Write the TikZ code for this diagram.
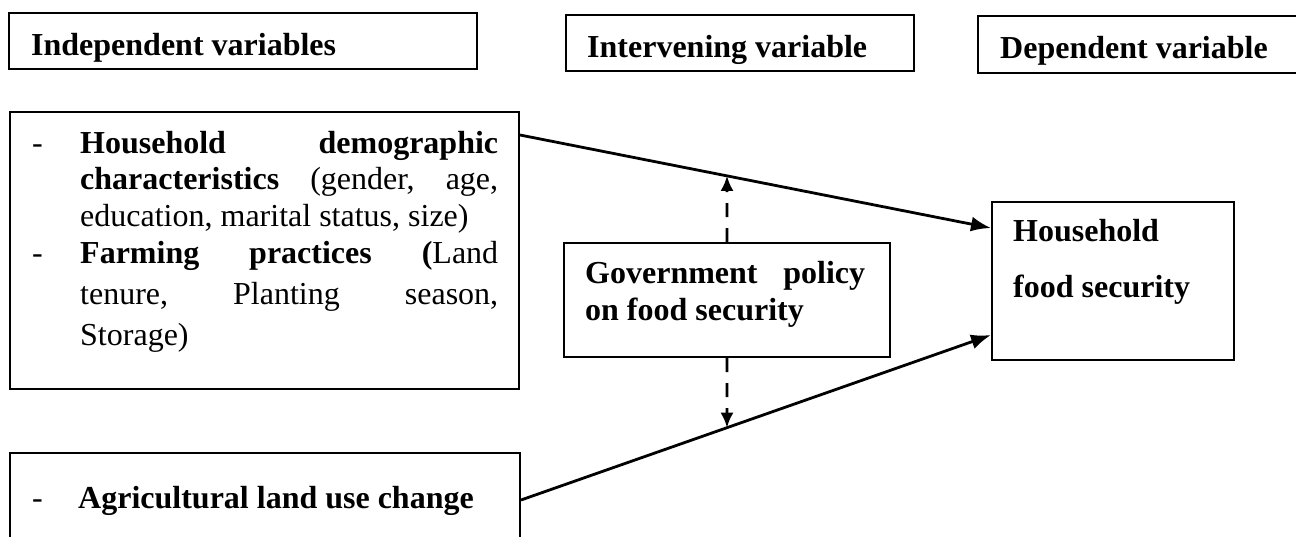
\documentclass[tikz,border=0pt]{standalone}
\usepackage{fontspec}
\setmainfont{Liberation Serif}
\usetikzlibrary{arrows.meta,calc,intersections}
\begin{document}
\begin{tikzpicture}[x=1pt,y=-1pt,
  box/.style={draw=black, line width=2pt, inner sep=0pt, anchor=north west},
  txt/.style={inner sep=0pt, anchor=base west, font=\fontsize{32}{38}\selectfont},
  conn/.style={line width=2.8pt, -{Latex[length=20pt,width=15pt]}},
  dconn/.style={line width=2.6pt, dash pattern=on 14pt off 11pt, -{Latex[length=15pt,width=13pt]}}
]
\useasboundingbox (0,0) rectangle (1296,536);
\fill[white] (0,0) rectangle (1296,536);

% headers
\node[box, minimum width=468pt, minimum height=56pt] (hind) at (8,12) {};
\node[box, minimum width=348pt, minimum height=56pt] (hint) at (565,14) {};
\node[box, minimum width=323pt, minimum height=57pt] (hdep) at (977,15) {};
\node[txt] (t1) at (31,55) {\textbf{Independent variables}};
\node[txt] (t2) at (587,57) {\textbf{Intervening variable}};
\node[txt] (t3) at (1000,58) {\textbf{Dependent variable}};

% boxes
\node[box, minimum width=509pt, minimum height=277pt] (iv1) at (9,111) {};
\node[box, minimum width=510pt, minimum height=130pt] (iv2) at (9,452) {};
\node[box, minimum width=326pt, minimum height=114pt] (gov) at (563,242) {};
\node[box, minimum width=242pt, minimum height=158pt] (dv) at (991,201) {};

% text of first box
\node[txt] (d1) at (32,153) {-};
\node[txt] (l1) at (80,153) {\makebox[418pt][l]{\textbf{Household}\hfill\textbf{demographic}}};
\node[txt] (l2) at (80,189) {\makebox[418pt][l]{\textbf{characteristics}\hfill(gender,\hfill age,}};
\node[txt] (l3) at (80,226) {education, marital status, size)};
\node[txt] (d2) at (32,263) {-};
\node[txt] (l4) at (80,263) {\makebox[418pt][l]{\textbf{Farming}\hfill\textbf{practices}\hfill\textbf{(}Land}};
\node[txt] (l5) at (80,304) {\makebox[418pt][l]{tenure,\hfill Planting\hfill season,}};
\node[txt] (l6) at (80,345) {Storage)};

% text of second box
\node[txt] (d3) at (32,508) {-};
\node[txt] (a1) at (78,508) {\textbf{Agricultural land use change}};

% government text
\node[txt] (g1) at (585,283) {\makebox[280pt][l]{\textbf{Government}\hfill\textbf{policy}}};
\node[txt] (g2) at (585,320) {\textbf{on food security}};

% dependent text
\node[txt] (h1) at (1013,241) {\textbf{Household}};
\node[txt] (h2) at (1013,297) {\textbf{food security}};

% connectors
\coordinate (s1) at ($(iv1.north east)+(0,24)$);
\coordinate (e1) at ($(dv.north west)+(0,27)$);
\coordinate (s2) at ($(iv2.north east)+(0,48)$);
\coordinate (e2) at ($(dv.south west)+(0,-26)$);
\draw[conn, name path=top] (s1) -- (e1);
\draw[conn, name path=bot] (s2) -- (e2);
\path[name path=vup] (gov.north) -- ++(0,-120);
\path[name path=vdn] (gov.south) -- ++(0,120);
\path[name intersections={of=top and vup, by=x1}];
\path[name intersections={of=bot and vdn, by=x2}];
\draw[dconn] (gov.north) -- (x1);
\draw[dconn] (gov.south) -- (x2);
\end{tikzpicture}
\end{document}
